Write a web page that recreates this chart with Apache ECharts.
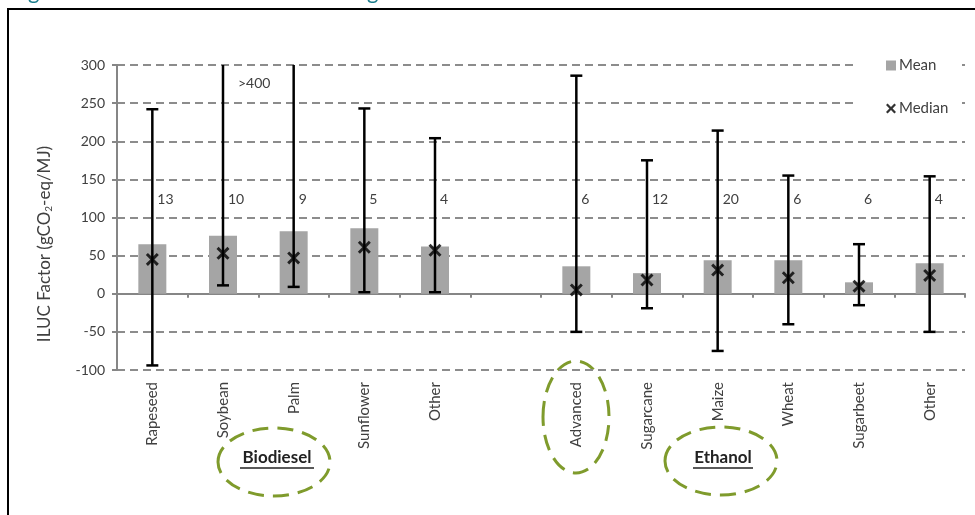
<!DOCTYPE html>
<html>
<head>
<meta charset="utf-8">
<script src="https://cdn.jsdelivr.net/npm/echarts@6/dist/echarts.min.js"></script>
<style>
html,body{margin:0;padding:0;background:#fff;}
#chart{width:975px;height:515px;}
</style>
</head>
<body>
<div id="chart"></div>
<script>
// ---- data ----
const categories = ['Rapeseed','Soybean','Palm','Sunflower','Other','','Advanced','Sugarcane','Maize','Wheat','Sugarbeet','Other'];
const meanValues = [65, 76, 82, 86, 62, null, 36, 27, 44, 44, 15, 40];
const medianValues = [45, 53, 47, 61, 57, null, 5, 18, 31, 21, 10, 24];
const rangeLow = [-94, 11, 9, 2, 2, null, -50, -19, -75, -40, -15, -50];
const rangeHigh = [242, 410, 410, 243, 204, null, 286, 175, 214, 155, 65, 154];
const sampleCounts = ['13','10','9','5','4','','6','12','20','6','6','4'];
const yMin = -100, yMax = 300, yInterval = 50;
const groupLabels = ['Biodiesel', 'Ethanol'];
const overflowNote = '>400';

// ---- layout constants ----
const COUNT_LABEL_Y = 123;
const FONT = 'Lato, "Open Sans", sans-serif';
const TXT = '#404040';
const GREEN = '#7f9b2c';

const xMark = 'path://M0,1.6L1.6,0L5,3.4L8.4,0L10,1.6L6.6,5L10,8.4L8.4,10L5,6.6L1.6,10L0,8.4L3.4,5Z';

const chart = echarts.init(document.getElementById('chart'), null, {renderer: 'canvas'});

const errData = categories.map((c, i) => rangeLow[i] == null ? null : [i, rangeLow[i], rangeHigh[i]]).filter(d => d);
const countData = categories.map((c, i) => sampleCounts[i] ? [i, sampleCounts[i]] : null).filter(d => d);

const option = {
  animation: false,
  backgroundColor: '#fff',
  grid: {left: 117, right: 10, top: 65, bottom: 145, containLabel: false},
  legend: {
    orient: 'vertical',
    left: 856, top: 54,
    padding: [4, 12, 4, 30],
    backgroundColor: '#fff',
    itemGap: 28,
    itemWidth: 10, itemHeight: 10,
    textStyle: {fontFamily: FONT, fontSize: 15, color: TXT, padding: [0, 0, 0, -2]},
    data: [
      {name: 'Mean', icon: 'rect', itemStyle: {color: '#a5a5a5'}},
      {name: 'Median', icon: xMark, itemStyle: {color: '#000'}}
    ]
  },
  xAxis: [
    {
      type: 'category', data: categories, boundaryGap: true,
      axisLine: {onZero: true, lineStyle: {color: '#868686', width: 2}},
      axisTick: {show: true, interval: 0, length: 4, lineStyle: {color: '#868686', width: 2}},
      axisLabel: {show: false},
      splitLine: {show: false}
    },
    {
      type: 'category', data: categories, position: 'bottom', boundaryGap: true,
      axisLine: {show: false, onZero: false},
      axisTick: {show: false},
      axisLabel: {show: true, interval: 0, rotate: 90, margin: 12, fontFamily: FONT, fontSize: 15, color: TXT},
      splitLine: {show: false}
    }
  ],
  yAxis: {
    type: 'value', min: yMin, max: yMax, interval: yInterval,
    axisLine: {show: true, lineStyle: {color: '#868686', width: 2}},
    axisTick: {show: true, length: 5, lineStyle: {color: '#868686', width: 2}},
    axisLabel: {fontFamily: FONT, fontSize: 14, color: TXT, margin: 12},
    splitLine: {show: true, lineStyle: {color: '#8c8c8c', width: 2, type: [8, 5]}}
  },
  series: [
    {
      name: 'Mean', type: 'bar', xAxisIndex: 0, data: meanValues.map(v => v == null ? '-' : v),
      barWidth: 28, itemStyle: {color: '#a5a5a5'}, z: 2
    },
    {
      name: 'Range', type: 'custom', xAxisIndex: 0, data: errData, z: 3,
      renderItem: function (params, api) {
        const i = api.value(0);
        const lo = api.value(1), hi = api.value(2);
        const pLo = api.coord([i, lo]);
        const pHi = api.coord([i, Math.min(hi, yMax)]);
        const st = {stroke: '#000', lineWidth: 2.5};
        const ch = [
          {type: 'line', shape: {x1: pLo[0], y1: pLo[1], x2: pHi[0], y2: pHi[1]}, style: st},
          {type: 'line', shape: {x1: pLo[0] - 6, y1: pLo[1], x2: pLo[0] + 6, y2: pLo[1]}, style: st}
        ];
        if (hi <= yMax) ch.push({type: 'line', shape: {x1: pHi[0] - 6, y1: pHi[1], x2: pHi[0] + 6, y2: pHi[1]}, style: st});
        return {type: 'group', children: ch};
      }
    },
    {
      name: 'Median', type: 'scatter', xAxisIndex: 0, data: medianValues.map(v => v == null ? '-' : v),
      symbol: xMark, symbolSize: 13, itemStyle: {color: '#000'}, z: 4
    },
    {
      name: 'Count', type: 'custom', xAxisIndex: 0, data: countData, z: 5,
      renderItem: function (params, api) {
        const p = api.coord([api.value(0), COUNT_LABEL_Y]);
        return {type: 'text', x: p[0] + 5, y: p[1],
          style: {text: sampleCounts[api.value(0)], font: '14px ' + FONT, fill: TXT, textAlign: 'left', textVerticalAlign: 'middle'}};
      }
    }
  ],
  graphic: [
    {type: 'rect', shape: {x: 8, y: 9, width: 1000, height: 560}, style: {fill: 'none', stroke: '#000', lineWidth: 2}, z: 0, silent: true},
    {type: 'text', x: 28, y: 3, style: {text: 'g', font: '22px ' + FONT, fill: '#1b7d8c', textVerticalAlign: 'bottom'}},
    {type: 'text', x: 367, y: 3, style: {text: 'g', font: '22px ' + FONT, fill: '#1b7d8c', textVerticalAlign: 'bottom'}},
    {type: 'text', x: 45, y: 244, rotation: Math.PI / 2,
      style: {text: 'ILUC Factor (gCO{s|2}-eq/MJ)', font: '17px ' + FONT, fill: TXT, textAlign: 'center', textVerticalAlign: 'middle',
        rich: {s: {fontSize: 10, fontFamily: FONT, fill: TXT, padding: [8, 0, 0, 0]}}}},
    {type: 'text', x: 238, y: 83, style: {text: overflowNote, font: '14px ' + FONT, fill: TXT, textVerticalAlign: 'middle'}},
    {type: 'ellipse', shape: {cx: 274, cy: 462, rx: 56, ry: 34}, style: {fill: 'none', stroke: GREEN, lineWidth: 3, lineDash: [16, 9]}},
    {type: 'ellipse', shape: {cx: 576, cy: 417, rx: 33, ry: 56}, style: {fill: 'none', stroke: GREEN, lineWidth: 3, lineDash: [16, 9]}},
    {type: 'ellipse', shape: {cx: 721, cy: 461, rx: 56, ry: 34}, style: {fill: 'none', stroke: GREEN, lineWidth: 3, lineDash: [16, 9]}},
    {type: 'text', x: 277, y: 458, style: {text: groupLabels[0], font: 'bold 17px ' + FONT, fill: '#222', textAlign: 'center', textVerticalAlign: 'middle'}},
    {type: 'line', shape: {x1: 240, y1: 468, x2: 314, y2: 468}, style: {stroke: '#222', lineWidth: 1.5}},
    {type: 'text', x: 723, y: 458, style: {text: groupLabels[1], font: 'bold 17px ' + FONT, fill: '#222', textAlign: 'center', textVerticalAlign: 'middle'}},
    {type: 'line', shape: {x1: 693, y1: 468, x2: 753, y2: 468}, style: {stroke: '#222', lineWidth: 1.5}}
  ]
};
chart.setOption(option);
</script>
</body>
</html>
